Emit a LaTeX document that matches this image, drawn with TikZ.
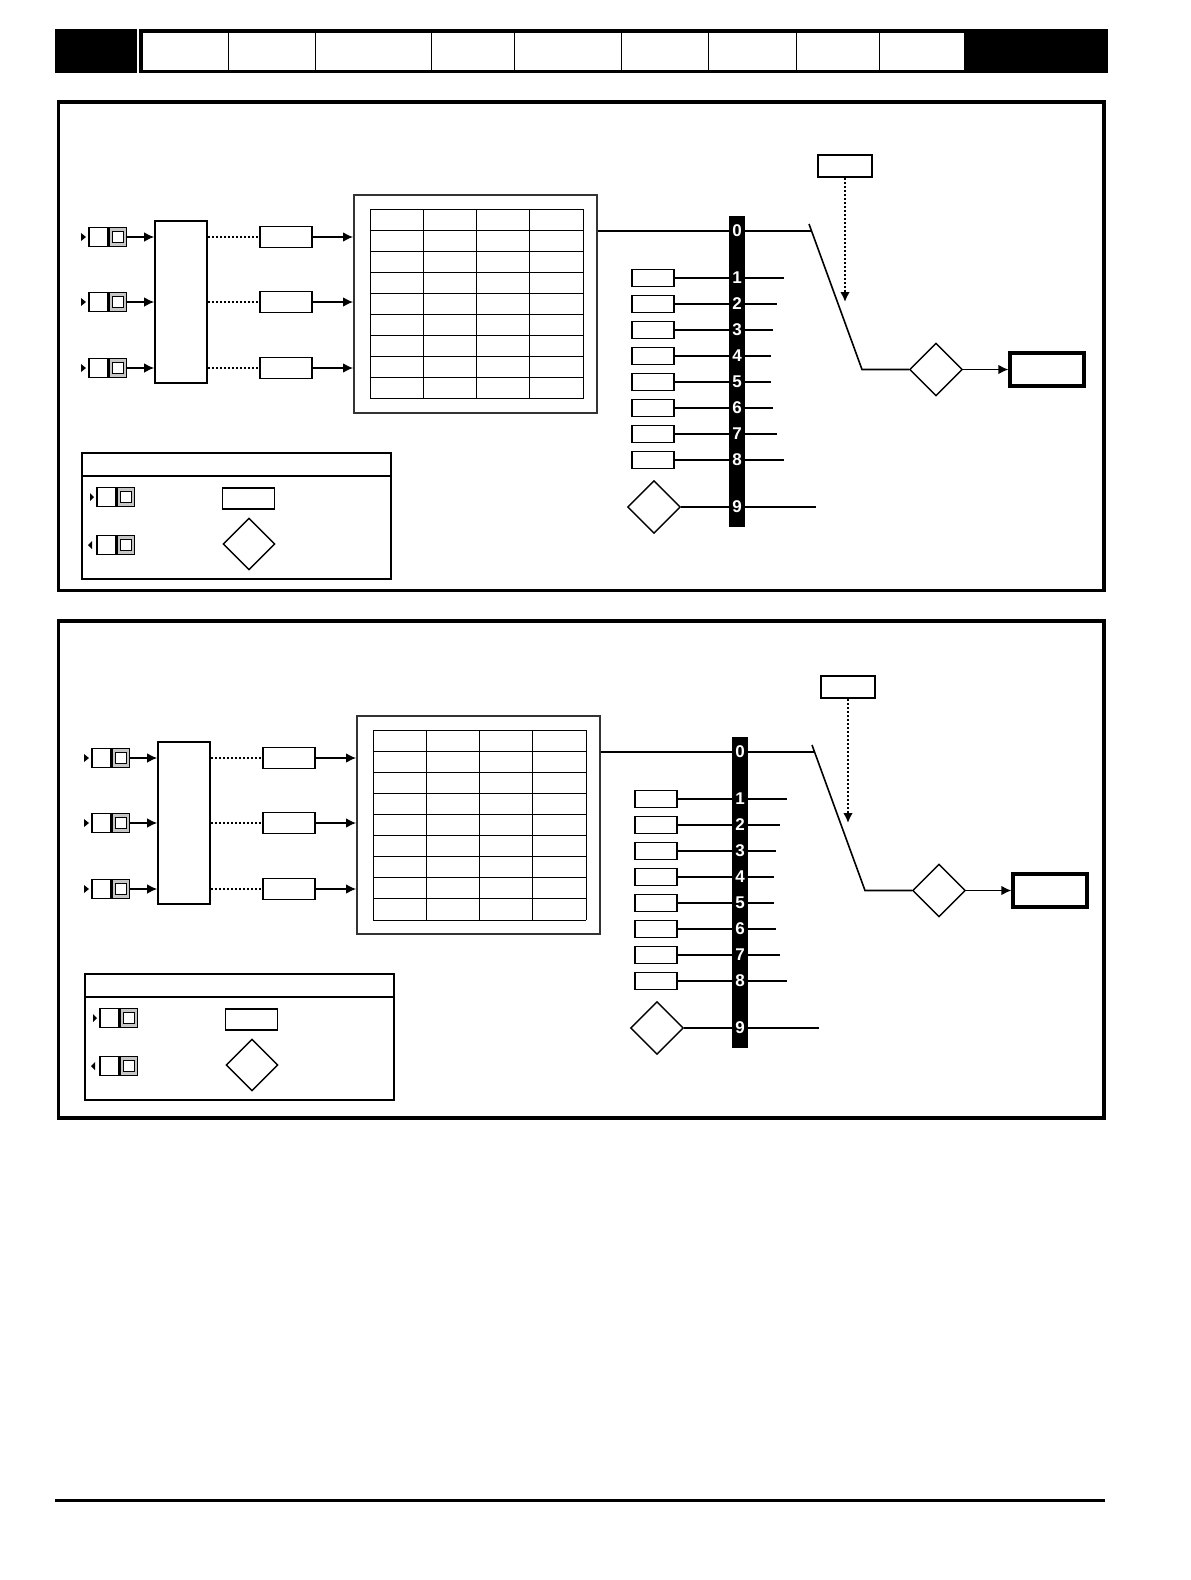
\documentclass[tikz,border=0pt]{standalone}
\usepackage{fontspec}
\newfontfamily\numfont{Liberation Sans}
\usetikzlibrary{arrows.meta,shapes.geometric}

\tikzset{
  conn/.style={line width=0.8pt},
  dots/.style={line width=0.9pt,dash pattern=on 0.9pt off 1.1pt},
  swwhite/.style={draw,line width=0.7pt,fill=white,minimum width=9.5pt,minimum height=9.5pt,inner sep=0pt},
  swgray/.style={draw,line width=0.7pt,fill=gray!45,minimum width=8.5pt,minimum height=9.5pt,inner sep=0pt},
  swsq/.style={draw,line width=0.7pt,fill=white,minimum size=5.5pt,inner sep=0pt},
  parbox/.style={draw,line width=0.7pt,minimum width=26pt,minimum height=10.5pt,inner sep=0pt},
  srcbox/.style={draw,line width=0.7pt,minimum width=21pt,minimum height=8.5pt,inner sep=0pt},
  dia/.style={draw,diamond,line width=0.7pt,minimum size=26.5pt,inner sep=0pt},
  num/.style={text=white,inner sep=0pt,font=\numfont\bfseries\fontsize{8.5}{9}\selectfont}
}

\begin{document}
\begin{tikzpicture}[x=0.5pt,y=-0.5pt,>={Latex[length=5pt,width=4.8pt]}]
            \useasboundingbox (0,0) rectangle (1190,1580);

            \fill (55.4,29.2) rectangle (1108.4,72.5);
            \fill[white] (136.5,29.2) rectangle (138.5,72.5);
            \fill[white] (143,33.3) rectangle (964,69.5);
            \foreach \hx in {228.7,315.4,431.3,514.9,621.7,708.3,796,879.6}
              \draw[line width=0.5pt] (\hx,33.3) -- (\hx,69.5);

            \draw[line width=1.7pt] (58.7,102) rectangle (1104,590.5);
            \draw[line width=1.7pt] (58.7,621) rectangle (1104,1118);
            \draw[line width=1.5pt] (55.4,1500.5) -- (1105.4,1500.5);

            \foreach \dx/\dy in {0/0,3/521} {
            \begin{scope}[shift={(\dx,\dy)}]

            \node[draw,line width=0.8pt,minimum width=26pt,minimum height=81pt] (mux) at (181,302) {};
            \node[draw,line width=0.9pt,draw=black!80,minimum width=121.5pt,minimum height=109pt] (tab) at (475.5,304) {};
            \foreach \c in {0,...,4}
              \draw[line width=0.5pt] (370+53.25*\c,209) -- (370+53.25*\c,399);
            \foreach \r in {0,...,9}
              \draw[line width=0.5pt] (370,209+21.11*\r) -- (583,209+21.11*\r);

            \foreach \y [count=\i] in {237,302,368} {
              \node[swwhite] (sw\i) at (98.5,\y) {};
              \node[swgray,anchor=west] (swg\i) at (sw\i.east) {};
              \node[swsq] at (swg\i) {};
              \fill (81,\y-4) -- (86,\y) -- (81,\y+4) -- cycle;
              \draw[conn,->] (swg\i.east) -- (mux.west |- swg\i);
              \node[parbox] (par\i) at (286,\y) {};
              \draw[dots] (mux.east |- par\i) -- (par\i.west);
              \draw[conn,->] (par\i.east) -- (tab.west |- par\i);
            }

            \coordinate (st0) at (812,231);
            \draw[conn] (tab.east |- st0) -- (st0);
            \foreach \k/\len in {1/784,2/777,3/773,4/771,5/771,6/773,7/777,8/784} {
              \node[srcbox] (src\k) at (653,252+26*\k) {};
              \coordinate (st\k) at (\len,252+26*\k);
              \draw[conn] (src\k) -- (st\k);
            }
            \node[dia] (d9) at (654,507) {};
            \coordinate (st9) at (816,507);
            \draw[conn] (d9) -- (st9);

            \node[draw,line width=0.8pt,minimum width=27pt,minimum height=11pt,inner sep=0pt] (ctl) at (845,166) {};
            \coordinate (ctltip) at (845,302);
            \draw[dots,-{Latex[length=5pt,width=4.8pt]}] (ctl) -- (ctltip);

            \node[dia] (seldia) at (936,369.5) {};
            \node[draw,line width=1.6pt,minimum width=37pt,minimum height=16.5pt,inner sep=0pt] (outbox) at (1047,369.5) {};
            \coordinate (pivot) at (809,224);
            \coordinate (knee) at (862,369.5);
            \draw[conn] (pivot) -- (knee) -- (seldia.west);
            \draw[conn,->] (seldia.east) -- (outbox.west);

            \node[fill=black,minimum width=8pt,minimum height=155.5pt,inner sep=0pt] (bar) at (737,371.5) {};
            \node[num] (n0) at (737,231) {0};
            \foreach \k in {1,...,8}
              \node[num] (n\k) at (737,252+26*\k) {\k};
            \node[num] (n9) at (737,507) {9};

            \node[draw,line width=0.9pt,minimum width=154.5pt,minimum height=63pt] (leg) at (236.5,516) {};
            \draw[line width=0.8pt] ([yshift=-12pt]leg.north west) -- ([yshift=-12pt]leg.north east);
            \node[swwhite] (lsw1) at (106.5,497) {};
            \node[swgray,anchor=west] (lswg1) at (lsw1.east) {};
            \node[swsq] at (lswg1) {};
            \fill (90,493) -- (94,497) -- (90,501) -- cycle;
            \node[swwhite] (lsw2) at (106.5,545) {};
            \node[swgray,anchor=west] (lswg2) at (lsw2.east) {};
            \node[swsq] at (lswg2) {};
            \fill (92,541) -- (88,545) -- (92,549) -- cycle;
            \node[parbox,line width=0.9pt] (lgbox) at (248.5,498.5) {};
            \node[dia,minimum size=26pt] (lgdia) at (249,544) {};

            \end{scope}
            }
        \end{tikzpicture}
\end{document}
